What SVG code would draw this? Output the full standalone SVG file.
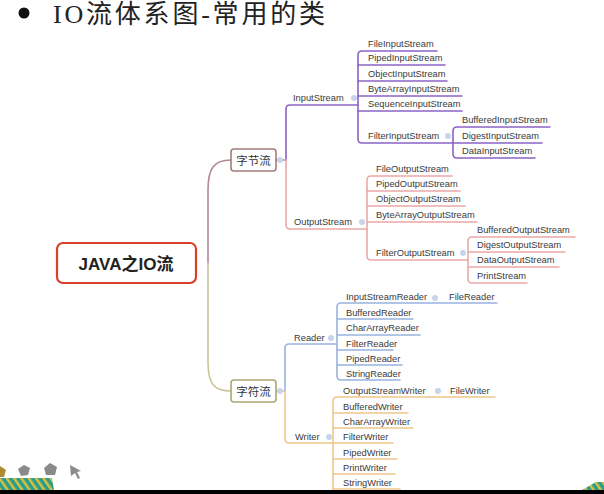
<svg xmlns="http://www.w3.org/2000/svg" width="604" height="494" viewBox="0 0 604 494">
<style>
.t{font-family:"Liberation Sans","Noto Sans",Arial,sans-serif;font-size:9.3px;fill:#3a3a3a}
.c{fill:none;stroke-width:1.6;stroke-linecap:round;stroke-linejoin:round}
.pu{stroke:#8a63c6}.sa{stroke:#eaa9a6}.bl{stroke:#98b3df}.ta{stroke:#f0c68c}
.dot{fill:#c6d4ee}
.cj{font-family:"Noto Sans CJK SC",sans-serif;font-size:11.5px;fill:#333;text-anchor:middle}
</style>
<rect width="604" height="494" fill="#ffffff"/>
<g id="title">
<circle cx="24" cy="13" r="5.5" fill="#111"/>
<text x="53" y="23" font-family="'Liberation Serif','Noto Sans CJK SC',serif" font-size="26" fill="#222" textLength="272">IO流体系图-常用的类</text>
</g>
<g id="connectors">
<path class="c" stroke="#b4879a" d="M208,263 V190 C208,168 214,160 231,160"/>
<path class="c" stroke="#c9c596" d="M208,263 V362 C208,384 214,391 231,391"/>
<g class="c pu">
<path d="M276,160 H286 V109 Q286,105 290,105 H358"/>
<path d="M437,51 H362 Q358,51 358,55 V139 Q358,143 362,143 H453"/>
<path d="M358,65 H445 M358,81 H447 M358,96 H462 M358,111 H462"/>
<path d="M550,127 H457 Q453,127 453,131 V154 Q453,158 457,158 H535 M453,143 H542"/>
</g>
<g class="c sa">
<path d="M276,160 H286 V225 Q286,229 290,229 H367"/>
<path d="M452,176 H371 Q367,176 367,180 V256 Q367,260 371,260 H468"/>
<path d="M367,191 H460 M367,206 H465 M367,222 H477"/>
<path d="M575,237 H472 Q468,237 468,241 V279 Q468,283 472,283 H527 M468,252 H565 M468,267 H559"/>
</g>
<g class="c bl">
<path d="M276,391 H285 V348 Q285,344 289,344 H337"/>
<path d="M497,303 H341 Q337,303 337,307 V376 Q337,380 341,380 H400"/>
<path d="M337,319 H413 M337,335 H420 M337,350 H393 M337,365 H402"/>
</g>
<g class="c ta">
<path d="M276,391 H285 V439 Q285,443 289,443 H333"/>
<path d="M495,397 H337 Q333,397 333,401 V494"/>
<path d="M333,413 H408 M333,428 H413 M333,443 H393 M333,459 H397 M333,474 H395 M333,489 H400"/>
</g>
<g class="dot">
<circle cx="280" cy="160" r="3"/><circle cx="280" cy="391" r="3"/>
<circle cx="354" cy="98" r="3"/><circle cx="362" cy="222" r="3"/>
<circle cx="448" cy="136" r="3"/><circle cx="463" cy="253" r="3"/>
<circle cx="331" cy="338" r="3"/><circle cx="329" cy="437" r="3"/>
<circle cx="435" cy="298" r="3"/><circle cx="438" cy="391" r="3"/>
</g>
</g>
<g id="root">
<rect x="57" y="243" width="139" height="40" rx="6" fill="#fff" stroke="#d8402a" stroke-width="2.2"/>
<text x="126" y="270" text-anchor="middle" font-family="'Liberation Sans','Noto Sans CJK SC',sans-serif" font-size="17" font-weight="bold" fill="#222">JAVA之IO流</text>
</g>
<g id="bytestream">
<rect x="231" y="149" width="45" height="22" rx="3" fill="#fff" stroke="#a57c7c" stroke-width="1.6"/>
<text class="cj" x="253.5" y="164.5">字节流</text>
</g>
<g id="charstream">
<rect x="231" y="380" width="45" height="22" rx="3" fill="#fff" stroke="#a9a872" stroke-width="1.6"/>
<text class="cj" x="253.5" y="395.5">字符流</text>
</g>
<g id="inputstream">
<text class="t" x="293" y="101">InputStream</text>
<text class="t" x="368" y="47">FileInputStream</text>
<text class="t" x="368" y="61">PipedInputStream</text>
<text class="t" x="368" y="77">ObjectInputStream</text>
<text class="t" x="368" y="92">ByteArrayInputStream</text>
<text class="t" x="368" y="107">SequenceInputStream</text>
<text class="t" x="368" y="139">FilterInputStream</text>
<text class="t" x="462" y="123">BufferedInputStream</text>
<text class="t" x="462" y="139">DigestInputStream</text>
<text class="t" x="462" y="154">DataInputStream</text>
</g>
<g id="outputstream">
<text class="t" x="294" y="225">OutputStream</text>
<text class="t" x="376" y="172">FileOutputStream</text>
<text class="t" x="376" y="187">PipedOutputStream</text>
<text class="t" x="376" y="202">ObjectOutputStream</text>
<text class="t" x="376" y="218">ByteArrayOutputStream</text>
<text class="t" x="376" y="256">FilterOutputStream</text>
<text class="t" x="477" y="233">BufferedOutputStream</text>
<text class="t" x="477" y="248">DigestOutputStream</text>
<text class="t" x="477" y="263">DataOutputStream</text>
<text class="t" x="477" y="279">PrintStream</text>
</g>
<g id="reader">
<text class="t" x="294" y="341">Reader</text>
<text class="t" x="346" y="300">InputStreamReader</text>
<text class="t" x="449" y="300">FileReader</text>
<text class="t" x="346" y="316">BufferedReader</text>
<text class="t" x="346" y="331">CharArrayReader</text>
<text class="t" x="346" y="347">FilterReader</text>
<text class="t" x="346" y="362">PipedReader</text>
<text class="t" x="346" y="377">StringReader</text>
</g>
<g id="writer">
<text class="t" x="295" y="440">Writer</text>
<text class="t" x="343" y="394">OutputStreamWriter</text>
<text class="t" x="450" y="394">FileWriter</text>
<text class="t" x="343" y="410">BufferedWriter</text>
<text class="t" x="343" y="425">CharArrayWriter</text>
<text class="t" x="343" y="440">FilterWriter</text>
<text class="t" x="343" y="456">PipedWriter</text>
<text class="t" x="343" y="471">PrintWriter</text>
<text class="t" x="343" y="486">StringWriter</text>
</g>
<g id="decor">
<defs>
<pattern id="stripe" width="6" height="6" patternUnits="userSpaceOnUse" patternTransform="rotate(-35)">
<rect width="6" height="6" fill="#2a9c8c"/><rect width="2.5" height="6" fill="#d8c040"/>
</pattern>
</defs>
<polygon points="0,478 52,478 54,490 0,490" fill="url(#stripe)"/>
<polygon points="0,466 6,470 4,477 0,477" fill="#b08a30"/>
<path d="M18,469 l6,-4 l6,3 l-2,7 l-7,1 z" fill="#8a8a8a"/>
<path d="M44,468 l6,-5 l7,4 l-2,8 l-9,0 z" fill="#8a8a8a"/>
<path d="M70,465 l11,6 l-4,1 l3,6 l-2,1 l-3,-6 l-4,3 z" fill="#8a8a8a"/>
<polygon points="582,490 596,482 604,482 604,490" fill="url(#stripe)"/>
<rect x="0" y="490" width="604" height="4" fill="#000"/>
</g>
</svg>
